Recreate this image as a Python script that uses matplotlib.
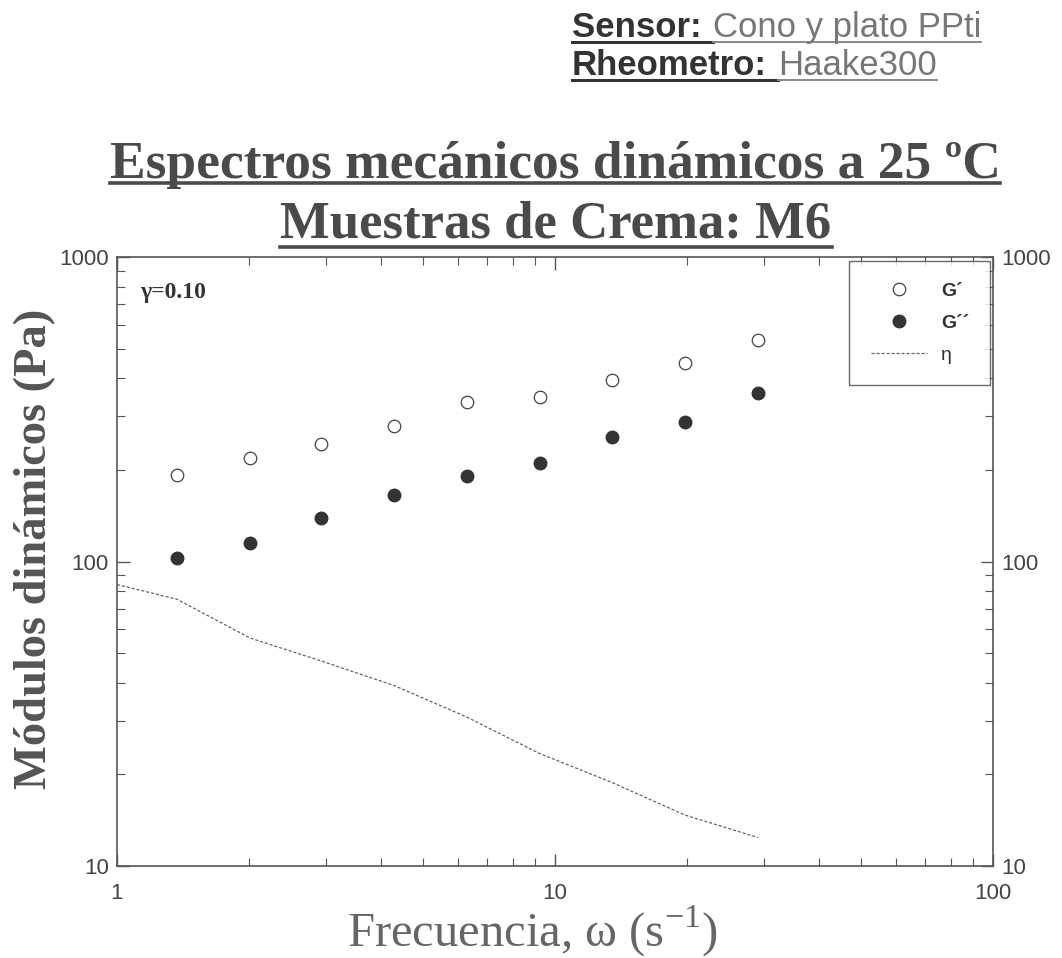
import matplotlib
matplotlib.use('Agg')
import matplotlib.pyplot as plt
from matplotlib.lines import Line2D
from matplotlib.ticker import LogLocator, NullFormatter, FixedLocator, FixedFormatter

# Datos (frecuencia en s^-1, modulos en Pa)
freq = [1.37, 2.01, 2.93, 4.30, 6.30, 9.23, 13.5, 19.8, 29.1]
g_storage = [192, 219, 243, 278, 334, 348, 395, 448, 532]
g_loss = [103, 115, 139, 165, 191, 211, 256, 288, 357]
eta_freq = [1.0, 1.37, 2.01, 2.93, 4.30, 6.30, 9.23, 13.5, 19.8, 29.1]
eta = [84, 75.2, 56.1, 47.1, 39.1, 30.8, 23.4, 18.8, 14.7, 12.4]

x_ticks = [1, 10, 100]
x_ticklabels = ['1', '10', '100']
y_ticks = [10, 100, 1000]
y_ticklabels = ['10', '100', '1000']

W, H = 1062, 958
SERIF = 'Liberation Serif'
SANS = 'Liberation Sans'

fig = plt.figure(figsize=(W / 100, H / 100), dpi=100)
ax = fig.add_axes([117 / W, 1 - 866 / H, (993 - 117) / W, (866 - 257) / H])

ax.plot(freq, g_storage, 'o', ms=9, mfc='white', mec='#444444', mew=0.9, label='G´')
ax.plot(freq, g_loss, 'o', ms=9, mfc='#333333', mec='#333333', label='G´´')
ax.plot(eta_freq, eta, '--', color='#666666', lw=0.9, dashes=(2.5, 1.5), label='η')

ax.set_xscale('log')
ax.set_yscale('log')
ax.set_xlim(1, 100)
ax.set_ylim(10, 1000)

for axis, ticks, labels in [(ax.xaxis, x_ticks, x_ticklabels), (ax.yaxis, y_ticks, y_ticklabels)]:
    axis.set_major_locator(FixedLocator(ticks))
    axis.set_major_formatter(FixedFormatter(labels))
    axis.set_minor_locator(LogLocator(base=10, subs=range(2, 10)))
    axis.set_minor_formatter(NullFormatter())

ax.tick_params(which='both', direction='in', top=True, right=True, labelright=True,
               colors='#555555', labelcolor='#444444', labelsize=16)
ax.tick_params(which='major', length=9, width=1)
ax.tick_params(which='minor', length=6, width=0.8)
ax.tick_params(axis='x', pad=12)
ax.tick_params(axis='y', pad=6)
for lab in ax.get_xticklabels() + ax.get_yticklabels():
    lab.set_family(SANS)
for s in ax.spines.values():
    s.set_color('#555555')
    s.set_linewidth(1.2)

ax.set_xlabel('Frecuencia, ω (s$^{\\mathregular{-1}}$)', family=SERIF, fontsize=35,
              color='#666666')
ax.xaxis.set_label_coords(0.474, -(947 - 866) / 609, transform=ax.transAxes)
ax.xaxis.label.set_va('baseline')
ax.set_ylabel('Módulos dinámicos (Pa)', family=SERIF, fontsize=33.5, fontweight='bold',
              color='#555555')
ax.yaxis.set_label_coords(-(117 - 56) / 876, 0.52, transform=ax.transAxes)

ax.text(0.026, 0.932, 'γ=0.10', transform=ax.transAxes, family=SERIF, fontsize=17,
        fontweight='bold', color='#333333')

leg = ax.legend(loc='upper right', bbox_to_anchor=(0.997, 0.994), borderaxespad=0,
                prop={'family': SANS, 'size': 14, 'weight': 'bold'}, frameon=True,
                fancybox=False, edgecolor='#444444', borderpad=1.1, labelspacing=0.75,
                handlelength=2.9, handletextpad=0.7)
leg.get_frame().set_linewidth(1.0)
for t in leg.get_texts():
    t.set_color('#333333')
leg.get_texts()[2].set_fontweight('normal')

# Titulo y cabecera
t1 = fig.text(555 / W, 1 - 178 / H, 'Espectros mecánicos dinámicos a 25 ºC', ha='center',
              va='baseline', family=SERIF, fontsize=38.5, fontweight='bold', color='#4a4a4a')
t2 = fig.text(556 / W, 1 - 238 / H, 'Muestras de Crema: M6', ha='center', va='baseline',
              family=SERIF, fontsize=38, fontweight='bold', color='#4a4a4a')

h1a = fig.text(572 / W, 1 - 37 / H, 'Sensor:', ha='left', va='baseline', family=SANS,
               fontsize=25, fontweight='bold', color='#333333')
h2a = fig.text(572 / W, 1 - 75 / H, 'Rheometro:', ha='left', va='baseline', family=SANS,
               fontsize=25, fontweight='bold', color='#333333')

fig.canvas.draw()
renderer = fig.canvas.get_renderer()

h1b = fig.text((h1a.get_window_extent(renderer).x1 + 11) / W, 1 - 37 / H, 'Cono y plato PPti',
               ha='left', va='baseline', family=SANS, fontsize=25, color='#777777')
h2b = fig.text((h2a.get_window_extent(renderer).x1 + 11) / W, 1 - 75 / H, 'Haake300',
               ha='left', va='baseline', family=SANS, fontsize=25, color='#777777')
fig.canvas.draw()


def underline(txt, y_img, color, lw, x_end=None):
    bb = txt.get_window_extent(renderer)
    x1 = bb.x1 if x_end is None else x_end
    fig.add_artist(Line2D([bb.x0 / W, x1 / W], [1 - y_img / H] * 2, transform=fig.transFigure,
                          color=color, lw=lw))


underline(t1, 183, '#4a4a4a', 2.6)
underline(t2, 247, '#4a4a4a', 2.6)
underline(h1a, 42, '#333333', 2.2, h1b.get_window_extent(renderer).x0)
underline(h1b, 42, '#888888', 1.4)
underline(h2a, 80, '#333333', 2.2, h2b.get_window_extent(renderer).x0)
underline(h2b, 80, '#888888', 1.4)

fig.savefig('out.png', dpi=100)
